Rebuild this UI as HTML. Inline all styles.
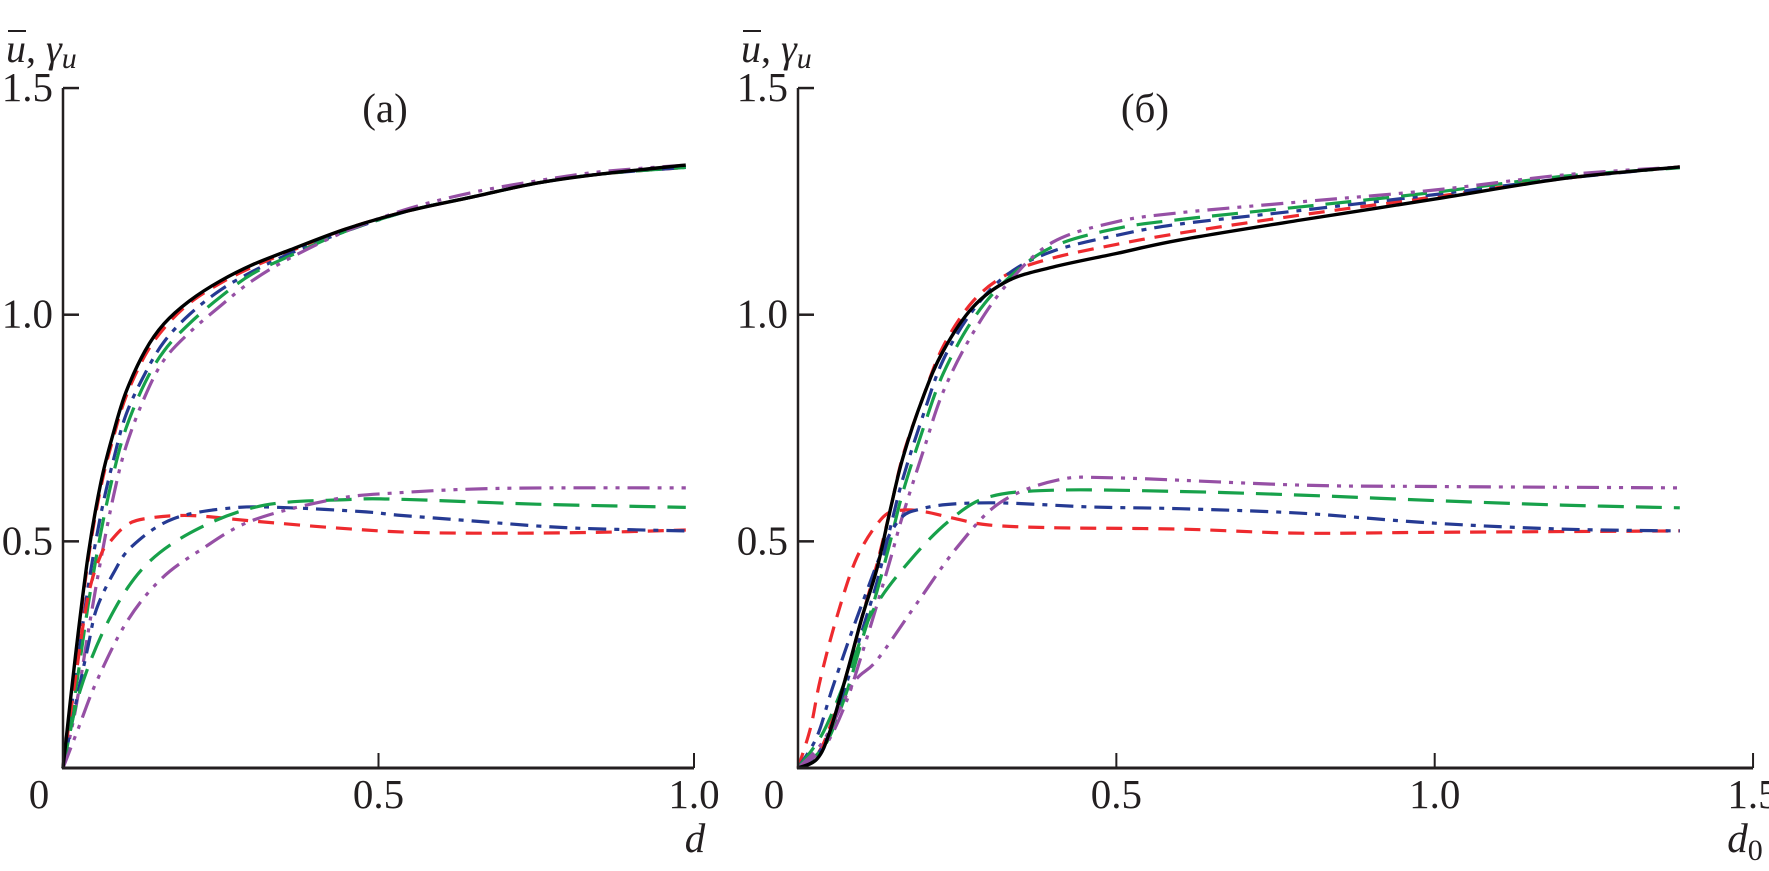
<!DOCTYPE html>
<html><head><meta charset="utf-8"><style>
body{margin:0;background:#fff}
svg{display:block}
text{font-family:"Liberation Serif",serif;fill:#231f20}
</style></head><body>
<svg id="chart" width="1769" height="871" viewBox="0 0 1769 871" xmlns="http://www.w3.org/2000/svg">
<g id="pa"></g>
<g id="pb"></g>
</svg>
<script>
// Panel (a) data
const aGrid=[0,0.02,0.04,0.06,0.08,0.1,0.13,0.16,0.2,0.25,0.3,0.36,0.45,0.55,0.65,0.75,0.85,0.987];
const aBlack=[0,0.25,0.47,0.63,0.74,0.83,0.92,0.98,1.03,1.075,1.11,1.143,1.19,1.23,1.26,1.29,1.31,1.33];
const aRed=[0,0.24,0.46,0.62,0.73,0.82,0.91,0.97,1.025,1.07,1.105,1.14,1.19,1.23,1.26,1.29,1.31,1.325];
const aBlue=[0,0.2,0.4,0.56,0.68,0.78,0.87,0.94,1.0,1.055,1.095,1.135,1.185,1.23,1.26,1.29,1.31,1.325];
const aGreen=[0,0.17,0.36,0.52,0.65,0.75,0.85,0.92,0.98,1.04,1.09,1.13,1.185,1.23,1.26,1.29,1.31,1.325];
const aPurple=[0,0.13,0.3,0.46,0.6,0.71,0.82,0.9,0.96,1.02,1.075,1.125,1.185,1.235,1.27,1.295,1.315,1.33];
const aRedLowX=[0,0.02,0.04,0.06,0.075,0.1,0.13,0.2,0.3,0.43,0.55,0.7,0.85,0.987];
const aRedLowY=[0,0.2,0.38,0.47,0.5,0.535,0.55,0.557,0.545,0.53,0.52,0.518,0.52,0.525];
const aBlueLowX=[0,0.02,0.04,0.053,0.08,0.11,0.175,0.27,0.36,0.48,0.53,0.65,0.8,0.987];
const aBlueLowY=[0,0.14,0.27,0.35,0.43,0.49,0.55,0.574,0.574,0.565,0.558,0.545,0.53,0.523];
const aGreenLowX=[0,0.027,0.074,0.133,0.217,0.32,0.45,0.53,0.75,0.987];
const aGreenLowY=[0,0.17,0.33,0.45,0.53,0.58,0.592,0.593,0.582,0.575];
const aPurpleLowX=[0,0.025,0.053,0.1,0.154,0.217,0.3,0.43,0.53,0.7,0.987];
const aPurpleLowY=[0,0.09,0.19,0.32,0.415,0.48,0.546,0.593,0.607,0.617,0.618];
// Panel (b) data
const bGrid=[0,0.03,0.05,0.077,0.1,0.124,0.145,0.165,0.197,0.228,0.275,0.33,0.4,0.5,0.6,0.79,1.0,1.2,1.385];
const bBlack=[0,0.02,0.08,0.21,0.33,0.44,0.57,0.686,0.82,0.92,1.017,1.075,1.105,1.135,1.165,1.209,1.255,1.3,1.326];
const bRed=[0,0.03,0.09,0.21,0.33,0.45,0.57,0.69,0.82,0.93,1.03,1.09,1.125,1.155,1.18,1.22,1.26,1.3,1.326];
const bBlue=[0,0.03,0.08,0.19,0.3,0.41,0.53,0.64,0.78,0.9,1.01,1.09,1.14,1.175,1.2,1.23,1.265,1.3,1.326];
const bGreen=[0,0.03,0.07,0.17,0.28,0.39,0.5,0.61,0.75,0.87,0.99,1.08,1.15,1.19,1.21,1.238,1.27,1.305,1.324];
const bPurple=[0,0.03,0.065,0.15,0.25,0.36,0.46,0.56,0.7,0.83,0.96,1.07,1.16,1.205,1.225,1.249,1.275,1.308,1.326];
const bRedLowX=[0,0.02,0.035,0.061,0.093,0.134,0.165,0.2,0.244,0.3,0.407,0.6,0.79,1.0,1.385];
const bRedLowY=[0,0.09,0.195,0.333,0.466,0.554,0.569,0.565,0.551,0.536,0.53,0.527,0.518,0.52,0.523];
const bBlueLowX=[0,0.03,0.055,0.1,0.15,0.197,0.3,0.458,0.6,0.79,1.0,1.2,1.385];
const bBlueLowY=[0,0.07,0.18,0.36,0.53,0.573,0.585,0.576,0.572,0.562,0.54,0.527,0.523];
const bGreenLowX=[0,0.04,0.082,0.118,0.176,0.239,0.3,0.407,0.6,0.79,1.0,1.2,1.385];
const bGreenLowY=[0,0.08,0.22,0.348,0.458,0.547,0.598,0.613,0.61,0.602,0.59,0.58,0.574];
const bPurpleLowX=[0,0.04,0.087,0.124,0.187,0.25,0.317,0.407,0.5,0.79,1.0,1.385];
const bPurpleLowY=[0,0.06,0.187,0.238,0.364,0.487,0.585,0.635,0.64,0.624,0.621,0.618];
const yTicks=[0.5,1.0,1.5];
const yTickLabels=["0.5","1.0","1.5"];
const aXTicks=[0.5,1.0];const aXLabels=["0.5","1.0"];
const bXTicks=[0.5,1.0,1.5];const bXLabels=["0.5","1.0","1.5"];

const NS="http://www.w3.org/2000/svg";
const Y0=768,YK=453.3;
function sy(v){return Y0-v*YK;}
function mk(tag,attrs,parent){const e=document.createElementNS(NS,tag);for(const k in attrs)e.setAttribute(k,attrs[k]);parent.appendChild(e);return e;}
function pathD(xs,ys,sx){
  const P=xs.map((x,i)=>[sx(x),sy(ys[i])]);
  let d="M"+P[0][0].toFixed(1)+","+P[0][1].toFixed(1);
  for(let i=0;i<P.length-1;i++){
    const p0=P[Math.max(0,i-1)],p1=P[i],p2=P[i+1],p3=P[Math.min(P.length-1,i+2)];
    const c1=[p1[0]+(p2[0]-p0[0])/6,p1[1]+(p2[1]-p0[1])/6];
    const c2=[p2[0]-(p3[0]-p1[0])/6,p2[1]-(p3[1]-p1[1])/6];
    d+=` C${c1[0].toFixed(1)},${c1[1].toFixed(1)} ${c2[0].toFixed(1)},${c2[1].toFixed(1)} ${p2[0].toFixed(1)},${p2[1].toFixed(1)}`;
  }
  return d;
}
const styles={
 black:{c:"#000",da:"none"},
 red:{c:"#ee2a2e",da:"16 10"},
 blue:{c:"#253a93",da:"18 8 5 8"},
 green:{c:"#17a14a",da:"26 12"},
 purple:{c:"#9650a5",da:"22 8 4 8 4 8"}
};
function drawPanel(g,x0,xk,xTicks,xLabels,xEnd,xName,xNameX,title,titleX,series){
  const sx=v=>x0+v*xk;
  series.forEach(s=>{
    const st=styles[s.style];
    const p=mk("path",{d:pathD(s.x,s.y,sx),fill:"none",stroke:st.c,"stroke-width":s.style==="black"?3.4:3.2,"stroke-dasharray":st.da,"stroke-linecap":"butt"},g);
    
    
  });
  const ya=mk("line",{x1:x0,y1:sy(1.5),x2:x0,y2:Y0+1,stroke:"#231f20","stroke-width":2.5},g);
  
  
  const xa=mk("line",{x1:x0-1,y1:Y0,x2:sx(xEnd),y2:Y0,stroke:"#231f20","stroke-width":3},g);
  
  
  yTicks.forEach((v,i)=>{
    const t=mk("line",{x1:x0,y1:sy(v),x2:x0+16,y2:sy(v),stroke:"#231f20","stroke-width":2.5},g);
    
    
    const l=mk("text",{x:x0-10,y:sy(v)+13,"text-anchor":"end","font-size":41},g);
    l.textContent=yTickLabels[i];
    
    
  });
  xTicks.forEach((v,i)=>{
    const t=mk("line",{x1:sx(v),y1:Y0,x2:sx(v),y2:Y0-15,stroke:"#231f20","stroke-width":2},g);
    
    
    const l=mk("text",{x:sx(v),y:808,"text-anchor":"middle","font-size":41},g);
    l.textContent=xLabels[i];
    
    
  });
  const z=mk("text",{x:x0-24,y:808,"text-anchor":"middle","font-size":41},g);
  z.textContent="0";
  
  
  const xl=mk("text",{x:xNameX,y:852,"text-anchor":"middle","font-size":41,"font-style":"italic"},g);
  xl.innerHTML=xName;
  
  
  const yl=mk("text",{x:x0-57,y:62,"font-size":40,"font-style":"italic"},g);
  yl.innerHTML='u<tspan font-style="normal">, </tspan>γ<tspan font-size="30" dy="6">u</tspan>';
  
  
  mk("line",{x1:x0-55,y1:31,x2:x0-37,y2:31,stroke:"#231f20","stroke-width":2},g);
  const tt=mk("text",{x:titleX,y:122,"text-anchor":"middle","font-size":41},g);
  tt.textContent=title;
  
  
}
drawPanel(document.getElementById('pa'),63,631,aXTicks,aXLabels,1.0,'d',695,'(a)',385,[
 {name:'u-curve-red',style:'red',x:aGrid,y:aRed},
 {name:'u-curve-blue',style:'blue',x:aGrid,y:aBlue},
 {name:'u-curve-green',style:'green',x:aGrid,y:aGreen},
 {name:'u-curve-purple',style:'purple',x:aGrid,y:aPurple},
 {name:'gamma-curve-red',style:'red',x:aRedLowX,y:aRedLowY},
 {name:'gamma-curve-blue',style:'blue',x:aBlueLowX,y:aBlueLowY},
 {name:'gamma-curve-green',style:'green',x:aGreenLowX,y:aGreenLowY},
 {name:'gamma-curve-purple',style:'purple',x:aPurpleLowX,y:aPurpleLowY},
 {name:'u-curve-black',style:'black',x:aGrid,y:aBlack}
]);
drawPanel(document.getElementById('pb'),798,636.7,bXTicks,bXLabels,1.5,'d<tspan font-size="30" dy="8" font-style="normal">0</tspan>',1745,'(б)',1145,[
 {name:'u-curve-red',style:'red',x:bGrid,y:bRed},
 {name:'u-curve-blue',style:'blue',x:bGrid,y:bBlue},
 {name:'u-curve-green',style:'green',x:bGrid,y:bGreen},
 {name:'u-curve-purple',style:'purple',x:bGrid,y:bPurple},
 {name:'gamma-curve-red',style:'red',x:bRedLowX,y:bRedLowY},
 {name:'gamma-curve-blue',style:'blue',x:bBlueLowX,y:bBlueLowY},
 {name:'gamma-curve-green',style:'green',x:bGreenLowX,y:bGreenLowY},
 {name:'gamma-curve-purple',style:'purple',x:bPurpleLowX,y:bPurpleLowY},
 {name:'u-curve-black',style:'black',x:bGrid,y:bBlack}
]);
</script>
</body></html>
